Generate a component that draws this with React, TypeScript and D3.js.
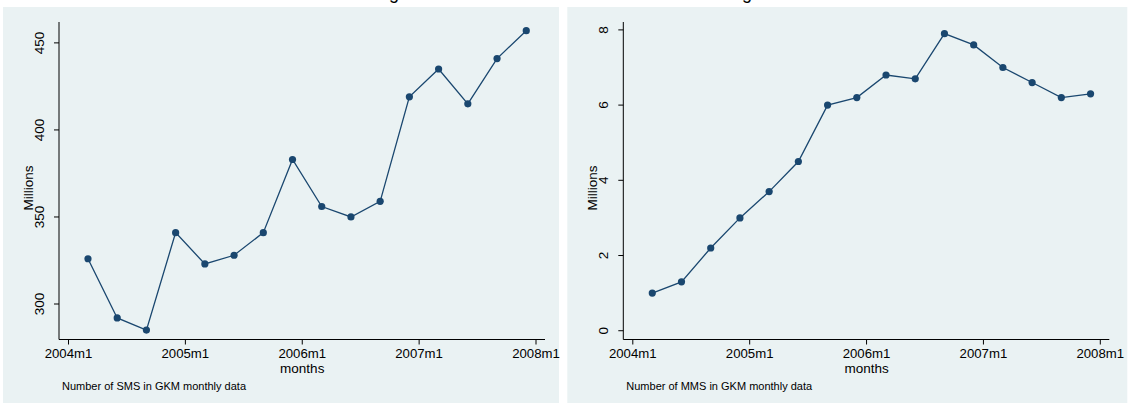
import React from "react";
import * as d3 from "d3";

const months = ["2004m3","2004m6","2004m9","2004m12","2005m3","2005m6","2005m9","2005m12","2006m3","2006m6","2006m9","2006m12","2007m3","2007m6","2007m9","2007m12"];
const sms = [326,292,285,341,323,328,341,383,356,350,359,419,435,415,441,457];
const mms = [1.0,1.3,2.2,3.0,3.7,4.5,6.0,6.2,6.8,6.7,7.9,7.6,7.0,6.6,6.2,6.3];
const xTicks = ["2004m1","2005m1","2006m1","2007m1","2008m1"];
const smsTicks = [300,350,400,450];
const mmsTicks = [0,2,4,6,8];

const NAVY = "#1a476f";
const BG = "#eaf2f3";
const FONT = "Liberation Sans, Arial, sans-serif";

function toMonth(s: string) {
  const [y, m] = s.split("m").map(Number);
  return (y - 2004) * 12 + (m - 1);
}

type PanelProps = {
  ox: number; pw: number; values: number[]; ticks: number[];
  yDomain: [number, number]; note: string;
};

function Panel({ ox, pw, values, ticks, yDomain, note }: PanelProps) {
  const axX = ox + 56;
  const x = d3.scaleLinear().domain([0, 48]).range([ox + 65.5, ox + 533]);
  const y = d3.scaleLinear().domain(yDomain).range([339, 22]);
  const line = d3.line<number>().x((_, i) => x(toMonth(months[i]))).y(d => y(d));
  const axisEnd = ox + 542;
  return (
    <g>
      <rect x={ox} y={7} width={pw} height={396} fill={BG} />
      {/* y axis */}
      <line x1={axX} x2={axX} y1={22} y2={339.5} stroke="#000" strokeWidth={1} />
      {ticks.map(t => (
        <g key={t}>
          <line x1={axX - 5} x2={axX} y1={y(t)} y2={y(t)} stroke="#000" />
          <text transform={`translate(${axX - 15},${y(t)}) rotate(-90)`} textAnchor="middle"
            fontFamily={FONT} fontSize={13.5} fill="#000">{t}</text>
        </g>
      ))}
      <text transform={`translate(${ox + 29.5},${188}) rotate(-90)`} textAnchor="middle"
        fontFamily={FONT} fontSize={13.5} fill="#000">Millions</text>
      {/* x axis */}
      <line x1={axX} x2={axisEnd} y1={339.5} y2={339.5} stroke="#000" strokeWidth={1} />
      {xTicks.map(t => (
        <g key={t}>
          <line x1={x(toMonth(t))} x2={x(toMonth(t))} y1={339.5} y2={344.5} stroke="#000" />
          <text x={x(toMonth(t))} y={358} textAnchor="middle" fontFamily={FONT} fontSize={13.2} fill="#000">{t}</text>
        </g>
      ))}
      <text x={(x(0) + x(48)) / 2} y={373} textAnchor="middle" fontFamily={FONT} fontSize={13.5} fill="#000">months</text>
      <text x={ox + 59} y={390} fontFamily={FONT} fontSize={11} fill="#000">{note}</text>
      {/* data */}
      <path d={line(values) || ""} fill="none" stroke={NAVY} strokeWidth={1.3} />
      {values.map((v, i) => (
        <circle key={i} cx={x(toMonth(months[i]))} cy={y(v)} r={3.6} fill={NAVY} />
      ))}
    </g>
  );
}

export default function App() {
  return (
    <svg width={1130} height={406} style={{ position: "absolute", left: 0, top: 0, background: "#fff" }}>
      <text x={394} y={-1} textAnchor="middle" fontFamily={FONT} fontSize={18}>g</text>
      <text x={747} y={-1} textAnchor="middle" fontFamily={FONT} fontSize={18}>g</text>
      <Panel ox={3} pw={556} values={sms} ticks={smsTicks} yDomain={[279.9, 462]}
        note="Number of SMS in GKM monthly data" />
      <Panel ox={567.3} pw={560} values={mms} ticks={mmsTicks} yDomain={[-0.22, 8.21]}
        note="Number of MMS in GKM monthly data" />
    </svg>
  );
}
